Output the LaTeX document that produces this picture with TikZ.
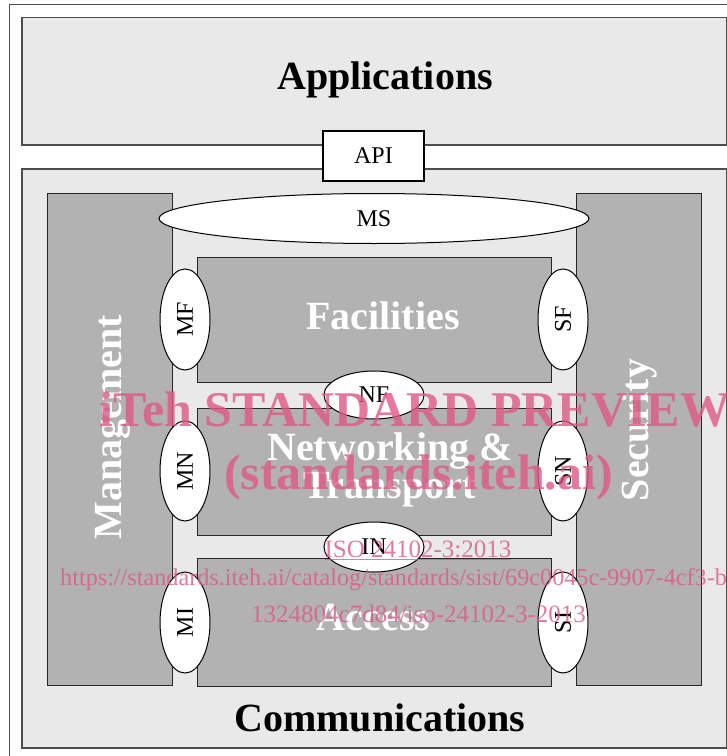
\documentclass[tikz,border=0pt]{standalone}
\usepackage{fontspec}
\setmainfont{Liberation Serif}
\usetikzlibrary{shapes.geometric}
\definecolor{lightg}{HTML}{E9E9E9}
\definecolor{darkg}{HTML}{B2B2B2}
\definecolor{framecol}{HTML}{4D4D4D}
\definecolor{edgecol}{HTML}{262626}
\definecolor{wmpink}{RGB}{222,88,132}
\tikzset{
  lightbox/.style={draw=framecol, fill=lightg, line width=1.5bp, inner sep=0pt, anchor=north west},
  darkbox/.style={draw=edgecol, fill=darkg, line width=1bp, inner sep=0pt, anchor=north west},
  ell/.style={ellipse, draw=black, fill=white, line width=1bp, inner sep=0pt},
  biglabel/.style={font=\bfseries\fontsize{40bp}{40bp}\selectfont, inner sep=0pt},
  whitelabel/.style={biglabel, text=white},
  smalllabel/.style={font=\fontsize{24bp}{24bp}\selectfont},
  wm/.style={text=wmpink, text opacity=0.8, inner sep=0pt}
}
\begin{document}
\begin{tikzpicture}[x=1bp,y=-1bp]
\useasboundingbox (0,0) rectangle (727,756);
% outer frame (open at right and bottom)
\draw[framecol, line width=1bp] (9,770) -- (9,5) -- (760,5);
% main boxes
\node[lightbox, minimum width=705bp, minimum height=127bp] (app) at (21,17) {};
\node[lightbox, minimum width=705bp, minimum height=579bp] (comm) at (21,168) {};
\node[darkbox, minimum width=125bp, minimum height=492bp] (mgmt) at (47,193) {};
\node[darkbox, minimum width=125bp, minimum height=492bp] (sec) at (576,193) {};
\node[darkbox, minimum width=354bp, minimum height=125bp] (fac) at (197,257) {};
\node[darkbox, minimum width=354bp, minimum height=127bp] (net) at (197,408) {};
\node[darkbox, minimum width=354bp, minimum height=128bp] (acc) at (197,558) {};
% API
\node[draw=black, fill=white, line width=1.5bp, minimum width=101bp, minimum height=50bp, inner sep=0pt, smalllabel] (api) at (373.5,156) {API};
% ellipses
\node[ell, minimum width=430bp, minimum height=50bp, smalllabel] (ms) at (374,218.5) {MS};
\node[ell, minimum width=101bp, minimum height=50bp, rotate=90, smalllabel] (mf) at (185,319.5) {MF};
\node[ell, minimum width=101bp, minimum height=50bp, rotate=90, smalllabel] (sf) at (563,319.5) {SF};
\node[ell, minimum width=100bp, minimum height=50bp, rotate=90, smalllabel] (mn) at (185,471) {MN};
\node[ell, minimum width=100bp, minimum height=50bp, rotate=90, smalllabel] (sn) at (563,471) {SN};
\node[ell, minimum width=101bp, minimum height=50bp, rotate=90, smalllabel] (mi) at (185,622.5) {MI};
\node[ell, minimum width=101bp, minimum height=50bp, rotate=90, smalllabel] (si) at (563,622.5) {SI};
\node[ell, minimum width=100bp, minimum height=48bp, smalllabel] (nf) at (374,395) {NF};
\node[ell, minimum width=100bp, minimum height=50bp, smalllabel] (in) at (374,547) {IN};
% labels
\node[biglabel, anchor=base] (tapp) at (385,89) {Applications};
\node[biglabel, anchor=base] (tcomm) at (380,731) {Communications};
\node[whitelabel, anchor=base] (tfac) at (383,329) {Facilities};
\node[whitelabel, anchor=base] (tnet1) at (390,460) {Networking \&};
\node[whitelabel, anchor=base] (tnet2) at (389.5,498) {Transport};
\node[whitelabel, anchor=base] (tacc) at (373.5,630) {Access};
\node[whitelabel, anchor=base, rotate=90] (tmgmt) at (121,427) {Management};
\node[whitelabel, anchor=base, rotate=90] (tsec) at (648,430) {Security};
% watermark
\node[wm, anchor=base, font=\bfseries\fontsize{50bp}{50bp}\selectfont] (wm1) at (415,426) {iTeh STANDARD PREVIEW};
\node[wm, anchor=base, font=\bfseries\fontsize{50bp}{50bp}\selectfont] (wm2) at (418.5,489) {(standards.iteh.ai)};
\node[wm, anchor=base, font=\fontsize{25bp}{25bp}\selectfont] (wm3) at (418,557) {\underline{ISO 24102-3:2013}};
\node[wm, anchor=base west, font=\fontsize{24.2bp}{25bp}\selectfont] (wm4) at (60,585) {https://standards.iteh.ai/catalog/standards/sist/69c0045c-9907-4cf3-b};
\node[wm, anchor=base, font=\fontsize{25bp}{25bp}\selectfont] (wm5) at (418.5,622) {1324804c7d84/iso-24102-3-2013};
\end{tikzpicture}
\end{document}
